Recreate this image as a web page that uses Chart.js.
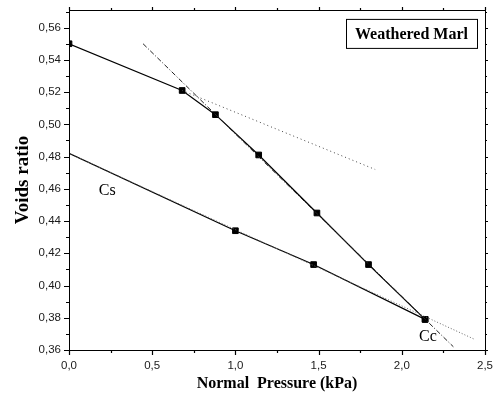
<!DOCTYPE html>
<html>
<head>
<meta charset="utf-8">
<script src="https://cdn.jsdelivr.net/npm/chart.js@4.4.1/dist/chart.umd.min.js"></script>
<style>
html,body{margin:0;padding:0;background:#fff;}
#wrap{width:497px;height:401px;}
</style>
</head>
<body>
<div id="wrap"><canvas id="c" width="497" height="401"></canvas></div>
<script>
// Loading (compression) curve
const loadX = [0, 0.68, 0.88, 1.14, 1.49, 1.80, 2.14];
const loadY = [0.550, 0.521, 0.506, 0.481, 0.445, 0.413, 0.379];
// Unloading (swelling) curve
const unloadX = [0, 1.00, 1.47, 2.14];
const unloadY = [0.482, 0.434, 0.413, 0.379];
// Recompression extension (dotted)
const recompX = [0.68, 1.84];
const recompY = [0.521, 0.472];
// Compression index line (dash-dot)
const ccLineX = [0.445, 2.31];
const ccLineY = [0.550, 0.362];
// Swelling index line (dotted)
const csLineX = [0, 2.44];
const csLineY = [0.482, 0.3665];
// Tick labels
const xTicks = [0, 0.5, 1.0, 1.5, 2.0, 2.5];
const yTicks = [0.36, 0.38, 0.40, 0.42, 0.44, 0.46, 0.48, 0.50, 0.52, 0.54, 0.56];
const xMinor = [0.25, 0.75, 1.25, 1.75, 2.25];
const yMinor = [0.37, 0.39, 0.41, 0.43, 0.45, 0.47, 0.49, 0.51, 0.53, 0.55, 0.57];
// Labels
const title = "Weathered Marl";
const xTitle = "Normal  Pressure (kPa)";
const yTitle = "Voids ratio";
const notes = [{text: "Cs", x: 0.23, y: 0.459}, {text: "Cc", x: 2.157, y: 0.368}];

const pts = (xs, ys) => xs.map((x, i) => ({x: x, y: ys[i]}));

const frame = {
  id: 'frame',
  afterDraw(chart) {
    const ctx = chart.ctx, a = chart.chartArea;
    const sx = chart.scales.x, sy = chart.scales.y;
    ctx.save();
    ctx.strokeStyle = '#000';
    ctx.lineWidth = 1;
    ctx.strokeRect(Math.round(a.left) + 0.5, Math.round(a.top) + 0.5, Math.round(a.right - a.left), Math.round(a.bottom - a.top));
    ctx.lineWidth = 1.2;
    ctx.beginPath();
    const tickX = (v, len, topLen) => {
      const p = Math.round(sx.getPixelForValue(v)) + 0.5;
      ctx.moveTo(p, a.bottom); ctx.lineTo(p, a.bottom + len);
      ctx.moveTo(p, a.top); ctx.lineTo(p, a.top - topLen);
    };
    const tickY = (v, len, rLen) => {
      const p = Math.round(sy.getPixelForValue(v)) + 0.5;
      ctx.moveTo(a.left, p); ctx.lineTo(a.left - len, p);
      ctx.moveTo(a.right, p); ctx.lineTo(a.right + rLen, p);
    };
    xTicks.forEach(v => tickX(v, 5, 3));
    xMinor.forEach(v => tickX(v, 3, 2));
    yTicks.forEach(v => tickY(v, 5, 3));
    yMinor.forEach(v => tickY(v, 3, 2));
    ctx.stroke();
    // annotations
    ctx.fillStyle = '#000';
    ctx.font = '16px "Liberation Serif"';
    ctx.textAlign = 'center';
    ctx.textBaseline = 'middle';
    notes.forEach(n => ctx.fillText(n.text, sx.getPixelForValue(n.x), sy.getPixelForValue(n.y)));
    // title box
    const bx = a.right - 139, by = a.top + 9, bw = 131, bh = 29;
    ctx.lineWidth = 1;
    ctx.strokeRect(bx + 0.5, by + 0.5, bw, bh);
    ctx.font = 'bold 16px "Liberation Serif"';
    ctx.fillText(title, bx + bw / 2, by + bh / 2 + 1);
    ctx.restore();
  }
};

new Chart(document.getElementById('c'), {
  type: 'scatter',
  data: {
    datasets: [
      {data: pts(csLineX, csLineY), showLine: true, borderColor: '#666', borderWidth: 1, borderDash: [1, 2], pointRadius: 0},
      {data: pts(recompX, recompY), showLine: true, borderColor: '#444', borderWidth: 1, borderDash: [1, 3], pointRadius: 0},
      {data: pts(ccLineX, ccLineY), showLine: true, borderColor: '#222', borderWidth: 1, borderDash: [5, 2, 1, 2], pointRadius: 0},
      {data: pts(unloadX, unloadY), showLine: true, borderColor: '#000', borderWidth: 1.2,
        pointStyle: 'rect', pointRadius: [0, 4, 4, 4], backgroundColor: '#000', pointBorderColor: '#000', pointBorderWidth: 1},
      {data: pts(loadX, loadY), showLine: true, borderColor: '#000', borderWidth: 1.2,
        pointStyle: 'rect', pointRadius: 4, backgroundColor: '#000', pointBorderColor: '#000', pointBorderWidth: 1}
    ]
  },
  options: {
    responsive: false,
    animation: false,
    layout: {padding: {top: 8, right: 12, left: 0, bottom: 0}},
    plugins: {legend: {display: false}, tooltip: {enabled: false}},
    scales: {
      x: {
        type: 'linear', min: 0, max: 2.5,
        afterBuildTicks: s => { s.ticks = xTicks.map(v => ({value: v})); },
        afterFit: s => { s.height = 51; },
        grid: {display: false, drawTicks: true, tickLength: 5},
        border: {display: true, color: '#000', width: 1},
        ticks: {padding: 4, color: '#1a1a1a', font: {family: '"Liberation Sans"', size: 11.5},
          callback: v => v.toFixed(1).replace('.', ',')},
        title: {display: true, text: xTitle, color: '#000', padding: {top: 0, bottom: 8},
          font: {family: '"Liberation Serif"', size: 16, weight: 'bold'}}
      },
      y: {
        type: 'linear', min: 0.36, max: 0.571,
        afterBuildTicks: s => { s.ticks = yTicks.map(v => ({value: v})); },
        afterFit: s => { s.width = 69; },
        grid: {display: false, drawTicks: true, tickLength: 5},
        border: {display: true, color: '#000', width: 1},
        ticks: {padding: 3, color: '#1a1a1a', font: {family: '"Liberation Sans"', size: 11.5},
          callback: v => v.toFixed(2).replace('.', ',')},
        title: {display: true, text: yTitle, color: '#000', padding: {top: 12, bottom: 0},
          font: {family: '"Liberation Serif"', size: 19, weight: 'bold'}}
      }
    }
  },
  plugins: [frame]
});
</script>
</body>
</html>
